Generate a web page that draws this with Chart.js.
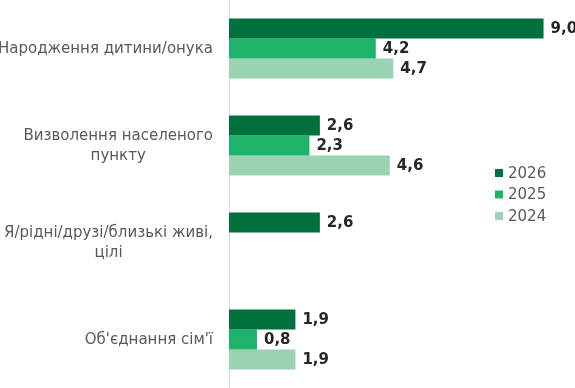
<!DOCTYPE html>
<html><head><meta charset="utf-8">
<style>html,body{margin:0;padding:0;background:#fff;overflow:hidden}#wrap{position:relative;width:575px;height:388px}</style>
<script src="https://cdn.jsdelivr.net/npm/chart.js@4/dist/chart.umd.min.js"></script>
</head><body><div id="wrap"><canvas id="c" width="575" height="388"></canvas></div>
<script>
const categories = [["Народження дитини/онука"], ["Визволення населеного", "пункту"], ["Я/рідні/друзі/близькі живі,", "цілі"], ["Об'єднання сім'ї"]];
const seriesNames = ["2026", "2025", "2024"];
const values2026 = [9.0, 2.6, 2.6, 1.9];
const values2025 = [4.2, 2.3, null, 0.8];
const values2024 = [4.7, 4.6, null, 1.9];
const colors = ['#00703c', '#1db36b', '#9ad3b1'];

const FONT = '"DejaVu Sans", Verdana, sans-serif';

const customDraw = {
  id: 'customDraw',
  afterDatasetsDraw(chart) {
    const ctx = chart.ctx;
    ctx.save();
    // value labels
    ctx.font = 'bold 15px ' + FONT;
    ctx.fillStyle = '#262626';
    ctx.textBaseline = 'middle';
    ctx.textAlign = 'left';
    chart.data.datasets.forEach((ds, i) => {
      const meta = chart.getDatasetMeta(i);
      meta.data.forEach((bar, j) => {
        const v = ds.data[j];
        if (v == null) return;
        ctx.fillText(v.toFixed(1).replace('.', ','), bar.x + 7, bar.y + 1);
      });
    });
    // category labels
    const yScale = chart.scales.y;
    ctx.font = '15px ' + FONT;
    ctx.fillStyle = '#595959';
    ctx.textAlign = 'center';
    chart.data.labels.forEach((lines, j) => {
      const cy = yScale.getPixelForValue(j) + 1;
      const w = Math.max(...lines.map(l => ctx.measureText(l).width));
      const cx = yScale.right - 16 - w / 2;
      const lh = 20;
      lines.forEach((l, k) => {
        ctx.fillText(l, cx, cy + (k - (lines.length - 1) / 2) * lh);
      });
    });
    // legend
    ctx.textAlign = 'left';
    chart.data.datasets.forEach((ds, i) => {
      const y = 173 + i * 21.5;
      ctx.fillStyle = ds.backgroundColor;
      ctx.fillRect(495, y - 4, 8, 8);
      ctx.fillStyle = '#595959';
      ctx.fillText(ds.label, 508, y + 1);
    });
    ctx.restore();
  }
};

new Chart(document.getElementById('c'), {
  type: 'bar',
  data: {
    labels: categories,
    datasets: [
      { label: seriesNames[0], data: values2026, backgroundColor: colors[0] },
      { label: seriesNames[1], data: values2025, backgroundColor: colors[1] },
      { label: seriesNames[2], data: values2024, backgroundColor: colors[2] }
    ]
  },
  options: {
    indexAxis: 'y',
    responsive: false,
    animation: false,
    devicePixelRatio: 1,
    layout: { padding: 0 },
    datasets: { bar: { categoryPercentage: 0.62, barPercentage: 1.0 } },
    scales: {
      x: { display: false, min: 0, max: 9.9 },
      y: {
        grid: { display: false },
        border: { display: true, color: '#d9d9d9', width: 1 },
        ticks: { display: false },
        afterFit(s) { s.width = 229; }
      }
    },
    plugins: { legend: { display: false }, tooltip: { enabled: false } }
  },
  plugins: [customDraw]
});
</script>
</body></html>
